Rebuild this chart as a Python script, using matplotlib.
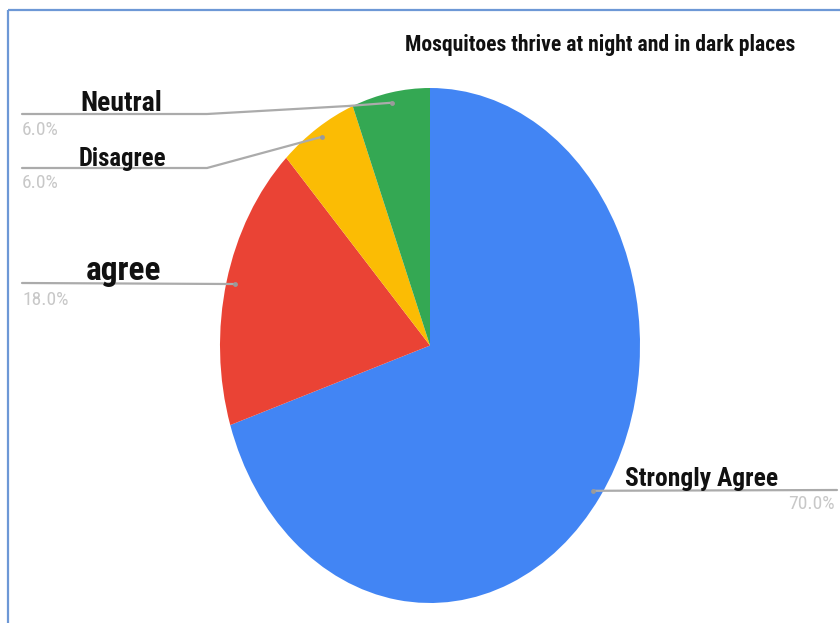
import numpy as np
import matplotlib
matplotlib.use("Agg")
import matplotlib.pyplot as plt
from matplotlib import font_manager

# Survey responses
categories = ["Strongly Agree", "agree", "Disagree", "Neutral"]
shares = [70.0, 18.0, 6.0, 6.0]
colors = ["#4285F4", "#EA4335", "#FBBC04", "#34A853"]
title = "Mosquitoes thrive at night and in dark places"

W, H, DPI = 840, 623, 100

installed = {f.name for f in font_manager.fontManager.ttflist}
narrow = next((n for n in ["Liberation Sans Narrow", "DejaVu Sans Condensed",
                           "Roboto Condensed", "Open Sans Condensed"] if n in installed),
              "DejaVu Sans")
label_font = [narrow, "DejaVu Sans"]

fig = plt.figure(figsize=(W / DPI, H / DPI), dpi=DPI, facecolor="white")

# Pie in its own axes; the box is taller than wide so the pie is drawn as an ellipse
pie_box = (220, 88, 420, 515)  # left, top, width, height in pixels
pax = fig.add_axes([pie_box[0] / W, (H - pie_box[1] - pie_box[3]) / H,
                    pie_box[2] / W, pie_box[3] / H])
wedges, _ = pax.pie(shares, colors=colors, startangle=90, counterclock=False,
                    radius=1.0, wedgeprops=dict(linewidth=0))
pax.set_aspect("auto")
pax.set_xlim(-1, 1)
pax.set_ylim(-1, 1)
pax.axis("off")

# Overlay in pixel coordinates for frame, title and callouts
ox = fig.add_axes([0, 0, 1, 1], facecolor="none")
ox.set_xlim(0, W)
ox.set_ylim(H, 0)
ox.axis("off")

frame_c = "#6d98d6"
ox.plot([8, W], [10, 10], color=frame_c, lw=1.6, solid_capstyle="butt")
ox.plot([8, 8], [10, H], color=frame_c, lw=1.6, solid_capstyle="butt")

ox.text(405, 51, title, fontsize=15.6, fontweight="bold", family=label_font,
        ha="left", va="baseline", color="#111111")


def anchor(i, frac=0.96):
    """Point inside wedge i along its middle angle, in overlay pixel coords."""
    w = wedges[i]
    mid = np.deg2rad((w.theta1 + w.theta2) / 2)
    disp = pax.transData.transform((frac * np.cos(mid), frac * np.sin(mid)))
    return ox.transData.inverted().transform(disp)


line_c = "#ababab"
# callout paths (elbows) and text placement per category
callouts = {
    "Neutral": dict(path=[(348, 106), (207, 114), (22, 114)], tx=80, ty=111,
                    size=20, px=22, py=130, pha="left"),
    "Disagree": dict(path=[(207, 168), (22, 168)], tx=79, ty=166,
                     size=17.8, px=22, py=183, pha="left"),
    "agree": dict(path=[(22, 283)], tx=86, ty=280, size=24, px=22, py=300, pha="left"),
    "Strongly Agree": dict(path=[(837, 490)], tx=625, ty=486, size=18.4,
                           px=835, py=504, pha="right"),
}

for i, (cat, val) in enumerate(zip(categories, shares)):
    c = callouts[cat]
    ax0, ay0 = anchor(i)
    xs = [ax0] + [p[0] for p in c["path"]]
    ys = [ay0] + [p[1] for p in c["path"]]
    ox.plot(xs, ys, color=line_c, lw=1.6, solid_capstyle="round", zorder=3)
    ox.plot([ax0], [ay0], "o", ms=3.5, color="#9a9a9a", mec="none", zorder=4)
    ox.text(c["tx"], c["ty"], cat, fontsize=c["size"], fontweight="bold",
            family=label_font, ha="left", va="baseline", color="#111111", zorder=5)
    ox.text(c["px"], c["py"], f"{val:.1f}%", fontsize=14, family=label_font,
            ha=c["pha"], va="center", color="#c8c8c8", zorder=5)

fig.savefig("out.png", dpi=DPI, facecolor="white")
